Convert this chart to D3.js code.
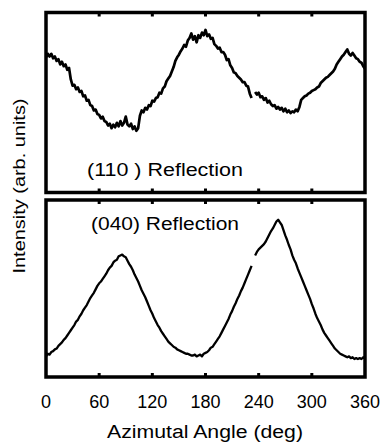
<!DOCTYPE html>
<html>
<head>
<meta charset="utf-8">
<script src="https://cdn.jsdelivr.net/npm/d3@7"></script>
<style>
  body { margin: 0; background: #fff; }
  text { font-family: "Liberation Sans", Arial, Helvetica, sans-serif; fill: #000; }
</style>
</head>
<body>
<div id="chart"></div>
<script>
// sample grid (deg), 2 deg step
var angles = d3.range(0, 361, 2);

// (110) reflection, arb. units (null = gap in the scan)
var refl110 = [
  75.5, 77.5, 76.0, 77.5, 75.0, 76.0, 73.5, 74.5, 71.5, 73.0,
  70.5, 71.5, 68.5, 69.5, 63.0, 59.5, 60.0, 57.5, 58.5, 56.0,
  56.5, 53.5, 54.0, 51.0, 51.5, 48.5, 48.0, 45.5, 46.0, 43.5,
  43.0, 41.0, 42.0, 39.5, 39.0, 37.0, 38.0, 35.5, 37.5, 36.0,
  38.5, 36.5, 39.5, 37.0, 38.5, 42.0, 37.5, 36.5, 38.0, 35.0,
  36.5, 34.0, 35.5, 42.5, 45.5, 44.5, 47.0, 46.0, 48.5, 48.0,
  51.0, 50.5, 52.5, 53.0, 55.5, 55.0, 58.0, 59.0, 62.0, 63.5,
  65.0, 67.5, 70.0, 73.5, 75.5, 77.0, 79.0, 80.5, 82.5, 81.5,
  85.0, 86.5, 89.0, 85.5, 87.5, 84.0, 88.0, 86.5, 89.5, 88.0,
  91.0, 87.5, 88.5, 86.0, 86.5, 83.0, 82.0, 80.5, 81.0, 78.5,
  78.5, 77.0, 74.0, 74.5, 71.0, 69.5, 67.0, 66.5, 65.0, 64.0,
  63.0, 61.5, 61.5, 59.5, 59.0, 55.0, 52.5, null, 56.0, 54.5,
  55.5, 53.0, 53.5, 51.5, 52.5, 50.0, 51.0, 49.0, 48.0, 48.5,
  46.5, 47.5, 46.0, 47.0, 45.0, 46.5, 44.5, 45.5, 44.0, 45.0,
  44.5, 46.0, 45.0, 47.5, 51.5, 52.5, 53.5, 54.0, 55.0, 55.5,
  56.5, 57.0, 57.5, 58.5, 59.0, 61.0, 62.0, 63.0, 64.0, 64.5,
  65.5, 66.5, 67.5, 69.0, 71.5, 73.0, 74.5, 76.0, 77.0, 78.5,
  80.0, 77.5, 76.5, 78.0, 76.5, 75.0, 74.5, 73.0, 72.5, 70.5,
  69.0
];

// (040) reflection, arb. units
var refl040 = [
  11.0, 12.5, 12.0, 13.5, 14.0, 15.0, 15.5, 17.0, 18.0, 19.0,
  20.5, 21.5, 23.0, 24.5, 26.0, 27.5, 29.0, 31.0, 32.0, 34.0,
  35.5, 37.5, 39.0, 40.5, 42.5, 44.5, 46.0, 47.5, 49.5, 51.5,
  53.0, 54.0, 55.5, 57.0, 58.5, 60.5, 62.0, 63.0, 65.0, 66.0,
  66.5, 68.5, 69.0, 69.5, 68.5, 68.0, 66.0, 64.0, 62.5, 60.5,
  58.0, 56.0, 54.0, 51.5, 49.0, 47.0, 45.0, 42.5, 40.0, 37.5,
  35.5, 33.0, 31.0, 29.0, 27.5, 25.5, 24.0, 22.5, 21.0, 19.5,
  18.5, 17.5, 16.5, 16.0, 15.0, 14.5, 14.0, 13.5, 13.0, 12.5,
  12.5, 12.0, 11.5, 11.5, 12.0, 11.0, 11.5, 12.0, 11.0, 12.5,
  13.0, 13.5, 14.5, 16.0, 16.5, 18.0, 19.5, 21.0, 22.5, 24.5,
  26.5, 28.5, 30.5, 32.5, 35.0, 37.0, 39.5, 41.5, 44.0, 46.0,
  48.5, 50.5, 53.0, 55.5, 58.0, 60.5, 63.0, null, 69.0, 71.0,
  72.5, 73.5, 74.5, 75.5, 77.0, 79.0, 81.0, 83.0, 84.5, 86.5,
  88.5, 89.5, 88.0, 86.5, 83.5, 80.5, 78.0, 75.0, 72.5, 69.0,
  66.5, 64.5, 61.5, 59.0, 56.5, 54.0, 51.5, 49.0, 46.5, 44.0,
  41.0, 38.5, 35.5, 33.0, 31.0, 29.0, 26.5, 24.5, 23.0, 21.5,
  20.0, 18.5, 17.0, 15.5, 14.5, 13.5, 12.5, 12.0, 11.5, 11.0,
  10.5, 11.0, 10.0, 10.5, 9.5, 10.0, 9.5, 10.0, 9.5, 10.5,
  10.0
];

var xTicks = [0, 60, 120, 180, 240, 300, 360];

var panels = [
  {label: "(110 ) Reflection", values: refl110, top: 12.5, bottom: 192.5, labelX: 87, labelY: 176, labelW: 156, lw: 2.7},
  {label: "(040) Reflection", values: refl040, top: 200, bottom: 377, labelX: 91, labelY: 230, labelW: 148, lw: 2.3}
];

var width = 384, height = 443;

var svg = d3.select("#chart").append("svg")
    .attr("width", width)
    .attr("height", height);

var x = d3.scaleLinear()
    .domain([0, 360])
    .range([46, 365]);

panels.forEach(function(p) {
  var y = d3.scaleLinear()
      .domain([0, 100])
      .range([p.bottom - 1.5, p.top + 1.5]);

  var line = d3.line()
      .defined(function(d) { return d[1] != null; })
      .x(function(d) { return x(d[0]); })
      .y(function(d) { return y(d[1]); });

  var pts = angles.map(function(a, i) { return [a, p.values[i]]; });

  svg.append("path")
      .datum(pts)
      .attr("d", line)
      .attr("fill", "none")
      .attr("stroke", "#000")
      .attr("stroke-width", p.lw)
      .attr("stroke-linejoin", "round");

  // inward ticks on top and bottom edges
  var inner = xTicks.slice(1, -1);
  svg.selectAll(null)
      .data(inner)
      .enter().append("line")
      .attr("x1", function(d) { return x(d); })
      .attr("x2", function(d) { return x(d); })
      .attr("y1", p.top)
      .attr("y2", p.top + 4)
      .attr("stroke", "#000")
      .attr("stroke-width", 3);
  svg.selectAll(null)
      .data(inner)
      .enter().append("line")
      .attr("x1", function(d) { return x(d); })
      .attr("x2", function(d) { return x(d); })
      .attr("y1", p.bottom)
      .attr("y2", p.bottom - 4)
      .attr("stroke", "#000")
      .attr("stroke-width", 3);

  svg.append("rect")
      .attr("x", x(0))
      .attr("y", p.top)
      .attr("width", x(360) - x(0))
      .attr("height", p.bottom - p.top)
      .attr("fill", "none")
      .attr("stroke", "#000")
      .attr("stroke-width", 3.5);

  svg.append("text")
      .attr("x", p.labelX)
      .attr("y", p.labelY)
      .attr("font-size", 18)
      .attr("textLength", p.labelW)
      .attr("lengthAdjust", "spacingAndGlyphs")
      .text(p.label);
});

// x tick labels
svg.selectAll(".xlab")
    .data(xTicks)
    .enter().append("text")
    .attr("class", "xlab")
    .attr("x", function(d) { return x(d); })
    .attr("y", 408)
    .attr("text-anchor", "middle")
    .attr("font-size", 18)
    .text(function(d) { return d; });

svg.append("text")
    .attr("x", 205)
    .attr("y", 438)
    .attr("text-anchor", "middle")
    .attr("font-size", 18)
    .attr("textLength", 196)
    .attr("lengthAdjust", "spacingAndGlyphs")
    .text("Azimutal Angle (deg)");

svg.append("text")
    .attr("transform", "translate(25,186) rotate(-90)")
    .attr("text-anchor", "middle")
    .attr("font-size", 16.5)
    .attr("textLength", 175)
    .attr("lengthAdjust", "spacingAndGlyphs")
    .text("Intensity (arb. units)");
</script>
</body>
</html>
